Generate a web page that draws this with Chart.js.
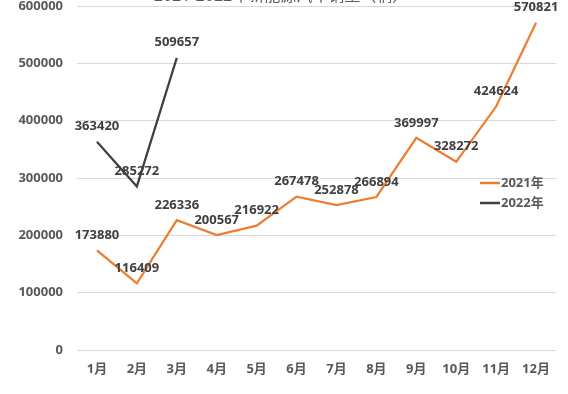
<!DOCTYPE html>
<html><head><meta charset="utf-8">
<script src="https://cdn.jsdelivr.net/npm/chart.js@4/dist/chart.umd.min.js"></script>
<style>html,body{margin:0;padding:0;background:#fff;overflow:hidden}#wrap{width:568px;height:394px;position:relative}</style>
</head><body><div id="wrap"><canvas id="c"></canvas></div>
<script>
const chartTitle = '2021-2022年新能源汽车销量（辆）';
const categories = ['1月','2月','3月','4月','5月','6月','7月','8月','9月','10月','11月','12月'];
const seriesNames = ['2021年','2022年'];
const values2021 = [173880,116409,226336,200567,216922,267478,252878,266894,369997,328272,424624,570821];
const values2022 = [363420,285272,509657];
const yMin = 0, yMax = 600000, yStep = 100000;
const colors = ['#ED7D31','#404040'];

const FONT = '"Noto Sans", "Noto Sans CJK SC", sans-serif';

const labelPlugin = {
  id:'labels',
  afterDatasetsDraw(chart){
    const ctx = chart.ctx;
    ctx.save();
    ctx.font = 'bold 13px ' + FONT;
    ctx.fillStyle = '#404040';
    ctx.textAlign = 'center';
    ctx.textBaseline = 'middle';
    chart.data.datasets.forEach((ds,i)=>{
      const meta = chart.getDatasetMeta(i);
      meta.data.forEach((pt,j)=>{
        ctx.fillText(String(ds.data[j]), pt.x, pt.y-15);
      });
    });
    ctx.restore();
  },
  afterDraw(chart){
    const ctx = chart.ctx;
    ctx.save();
    // title (cut off at top)
    ctx.font = '16px ' + FONT;
    ctx.fillStyle = '#595959';
    ctx.textAlign = 'center';
    ctx.textBaseline = 'middle';
    ctx.fillText(chartTitle, 281, -4);
    // legend
    ctx.font = 'bold 13px ' + FONT;
    ctx.textAlign = 'left';
    chart.data.datasets.forEach((ds,i)=>{
      const y = 183 + i*20;
      ctx.strokeStyle = ds.borderColor;
      ctx.lineWidth = 2.5;
      ctx.beginPath(); ctx.moveTo(480,y); ctx.lineTo(500,y); ctx.stroke();
      ctx.fillStyle = '#595959';
      ctx.fillText(ds.label, 501, y);
    });
    ctx.restore();
  }
};

new Chart(document.getElementById('c'), {
  type:'line',
  data:{
    labels: categories,
    datasets:[
      {label:seriesNames[0], data:values2021, borderColor:colors[0], backgroundColor:colors[0], borderWidth:2.25, pointRadius:0, tension:0},
      {label:seriesNames[1], data:values2022, borderColor:colors[1], backgroundColor:colors[1], borderWidth:2.25, pointRadius:0, tension:0}
    ]
  },
  options:{
    responsive:true, maintainAspectRatio:false, animation:false,
    layout:{padding:{top:6,right:12,bottom:14,left:0}},
    plugins:{legend:{display:false}, title:{display:false}, tooltip:{enabled:false}},
    scales:{
      x:{
        offset:true,
        grid:{display:false, drawTicks:false},
        border:{display:false},
        ticks:{padding:11, color:'#595959', font:{family:FONT, size:13, weight:'bold'}, maxRotation:0, autoSkip:false},
        afterFit(s){ s.height = 30; s.paddingLeft = 0; s.paddingRight = 0; }
      },
      y:{
        min:yMin, max:yMax,
        grid:{color:'#d9d9d9', lineWidth:1, drawTicks:false},
        border:{display:false},
        ticks:{stepSize:yStep, padding:14, color:'#595959', font:{family:FONT, size:13, weight:'bold'}, callback:v=>String(v)},
        afterFit(s){ s.width = 77; s.paddingTop = 0; s.paddingBottom = 0; }
      }
    }
  },
  plugins:[labelPlugin]
});
</script></body></html>
